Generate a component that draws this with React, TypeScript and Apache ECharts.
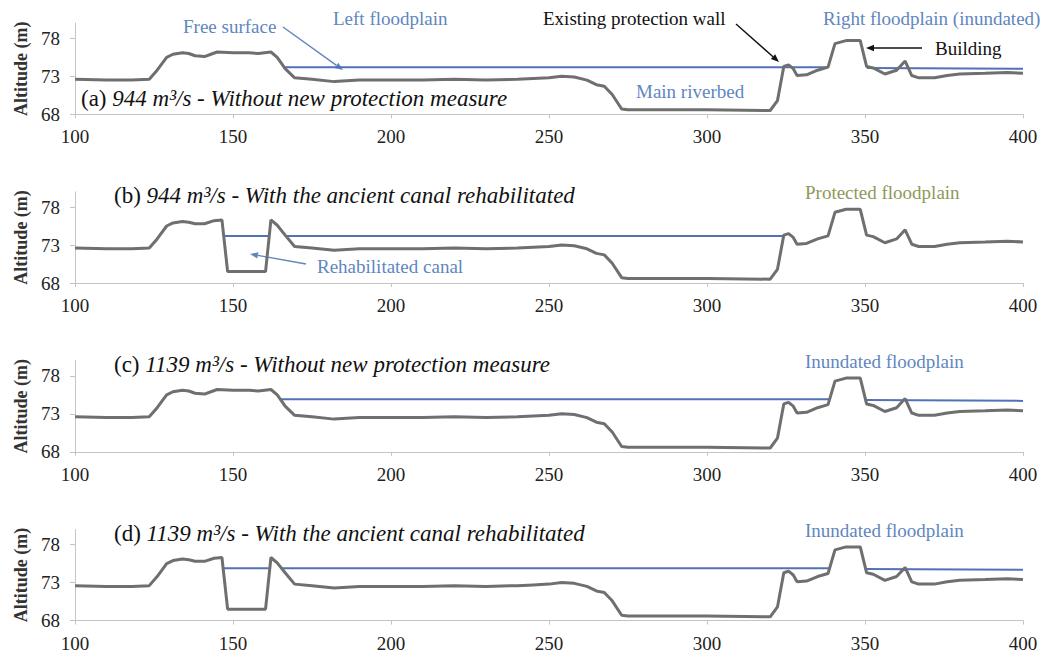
import React, { useEffect, useRef } from "react";
import * as echarts from "echarts";

// ---------- data ----------
const xTickValues = [100, 150, 200, 250, 300, 350, 400];
const yTickValues = [68, 73, 78];

// ground profile, existing state (panels a, c)
const groundExisting: [number, number][] = [
  [100, 72.6], [110, 72.5], [118, 72.5], [123.5, 72.6], [126, 73.8], [129, 75.5],
  [131, 75.9], [134, 76.1], [136, 76.0], [138, 75.7], [141, 75.6], [143, 75.9],
  [145, 76.2], [150, 76.1], [155, 76.1], [158, 76.0], [162, 76.2], [164, 75.5],
  [166.5, 74.0], [169.5, 72.8], [175, 72.6], [182, 72.3], [190, 72.5], [200, 72.5],
  [210, 72.5], [220, 72.6], [230, 72.5], [240, 72.6], [245, 72.7], [250, 72.8],
  [254, 73.0], [258, 72.9], [262, 72.5], [265, 71.9], [267.5, 71.7], [270, 70.6],
  [273, 68.7], [275, 68.6], [300, 68.6], [320, 68.5], [322.3, 69.8], [324.3, 74.3],
  [325.8, 74.5], [327.3, 74.0], [328.5, 73.1], [331.5, 73.2], [335, 73.8], [338.3, 74.2],
  [340.5, 77.3], [344, 77.7], [348.5, 77.7], [350.5, 74.3], [352.6, 74.1], [356.3, 73.3],
  [360, 73.8], [362.7, 75.0], [364.8, 73.1], [367, 72.8], [372, 72.8], [376, 73.1],
  [380, 73.3], [388, 73.4], [395, 73.5], [400, 73.4],
];

// ground profile with the ancient canal rehabilitated (panels b, d)
const groundWithCanal: [number, number][] = [
  [100, 72.6], [110, 72.5], [118, 72.5], [123.5, 72.6], [126, 73.8], [129, 75.5],
  [131, 75.9], [134, 76.1], [136, 76.0], [138, 75.8], [141, 75.8], [144, 76.2],
  [146.5, 76.3], [148.3, 69.5], [160.3, 69.5], [162, 76.3], [164, 75.6],
  [166.5, 74.3], [169.5, 72.8], [175, 72.6], [182, 72.3], [190, 72.5], [200, 72.5],
  [210, 72.5], [220, 72.6], [230, 72.5], [240, 72.6], [245, 72.7], [250, 72.8],
  [254, 73.0], [258, 72.9], [262, 72.5], [265, 71.9], [267.5, 71.7], [270, 70.6],
  [273, 68.7], [275, 68.6], [300, 68.6], [320, 68.5], [322.3, 69.8], [324.3, 74.3],
  [325.8, 74.5], [327.3, 74.0], [328.5, 73.1], [331.5, 73.2], [335, 73.8], [338.3, 74.2],
  [340.5, 77.3], [344, 77.7], [348.5, 77.7], [350.5, 74.3], [352.6, 74.1], [356.3, 73.3],
  [360, 73.8], [362.7, 75.0], [364.8, 73.1], [367, 72.8], [372, 72.8], [376, 73.1],
  [380, 73.3], [388, 73.4], [395, 73.5], [400, 73.4],
];

// free surface levels
const surfaceA: any[] = [[166.3, 74.2], [338.2, 74.2], [344, "-"], [350.6, 74.1], [400, 74.0]];
const surfaceB: any[] = [[147.0, 74.2], [161.3, 74.2], [163, "-"], [166.7, 74.2], [324.2, 74.2]];
const surfaceC: any[] = [[165.0, 74.9], [338.8, 74.9], [344, "-"], [350.1, 74.8], [400, 74.7]];
const surfaceD: any[] = [[147.0, 74.9], [161.3, 74.9], [163, "-"], [165.3, 74.9], [338.8, 74.9], [344, "-"], [350.1, 74.8], [400, 74.7]];

const panelLetters = ["(a) ", "(b) ", "(c) ", "(d) "];
const panelSubtitles = [
  "944 m³/s - Without new protection measure",
  "944 m³/s - With the ancient canal rehabilitated",
  "1139 m³/s - Without new protection measure",
  "1139 m³/s - With the ancient canal rehabilitated",
];
const panelGrounds = [groundExisting, groundWithCanal, groundExisting, groundWithCanal];
const panelSurfaces = [surfaceA, surfaceB, surfaceC, surfaceD];

// ---------- style ----------
const SERIF = "'Liberation Serif', 'Times New Roman', serif";
const GROUND = "#6f6f6f";
const WATER = "#5272b8";
const NOTE_BLUE = "#5f86bf";
const AXIS_GREY = "#c4c4c4";
const NOTE_SIZE = 19;

const GRID_LEFT = 75;
const GRID_RIGHT = 27;
const GRID_H = 91.2;
const GRID_TOPS = [23.1, 191.8, 360.6, 529.4];
const TITLE_POS = [
  [81, 98],
  [114, 195],
  [114, 364],
  [114, 533],
];

function arrow(x1: number, y1: number, x2: number, y2: number, color: string) {
  const ang = Math.atan2(y2 - y1, x2 - x1);
  const L = 8, W = 3.2;
  const bx = x2 - L * Math.cos(ang), by = y2 - L * Math.sin(ang);
  const px = -Math.sin(ang) * W, py = Math.cos(ang) * W;
  return [
    { type: "line", shape: { x1, y1, x2: bx, y2: by }, style: { stroke: color, lineWidth: 1.4 }, silent: true },
    {
      type: "polygon",
      shape: { points: [[x2, y2], [bx + px, by + py], [bx - px, by - py]] },
      style: { fill: color },
      silent: true,
    },
  ];
}

function note(text: string, x: number, y: number, color: string) {
  return {
    type: "text",
    x,
    y,
    style: { text, fill: color, font: `${NOTE_SIZE}px ${SERIF}`, verticalAlign: "middle" },
    silent: true,
  };
}

export default function App() {
  const ref = useRef<HTMLDivElement>(null);

  useEffect(() => {
    if (!ref.current) return;
    const chart = echarts.init(ref.current, undefined, { renderer: "svg" });

    const grids = GRID_TOPS.map((top) => ({ left: GRID_LEFT, right: GRID_RIGHT, top, height: GRID_H }));

    const xAxes = GRID_TOPS.map((_, i) => ({
      type: "value",
      gridIndex: i,
      min: xTickValues[0],
      max: xTickValues[xTickValues.length - 1],
      interval: xTickValues[1] - xTickValues[0],
      axisLine: { show: true, lineStyle: { color: AXIS_GREY, width: 1 } },
      axisTick: { show: true, length: 4, lineStyle: { color: AXIS_GREY } },
      splitLine: { show: false },
      axisLabel: { fontFamily: SERIF, fontSize: 19, color: "#222", margin: 13 },
    }));

    const yAxes = GRID_TOPS.map((_, i) => ({
      type: "value",
      gridIndex: i,
      min: 68,
      max: 80,
      name: "Altitude (m)",
      nameLocation: "middle",
      nameRotate: 90,
      nameGap: 44,
      nameTextStyle: { fontFamily: SERIF, fontSize: 18, fontWeight: "bold", color: "#333" },
      axisLine: { show: true, lineStyle: { color: AXIS_GREY, width: 1 } },
      axisTick: { show: true, length: 5, customValues: yTickValues, lineStyle: { color: AXIS_GREY } },
      splitLine: { show: false },
      axisLabel: { fontFamily: SERIF, fontSize: 19, color: "#222", margin: 15, customValues: yTickValues },
    }));

    const series: any[] = [];
    GRID_TOPS.forEach((_, i) => {
      series.push({
        type: "line",
        xAxisIndex: i,
        yAxisIndex: i,
        data: panelSurfaces[i],
        showSymbol: false,
        connectNulls: false,
        lineStyle: { color: WATER, width: 2 },
        z: 2,
      });
      series.push({
        type: "line",
        xAxisIndex: i,
        yAxisIndex: i,
        data: panelGrounds[i],
        showSymbol: false,
        lineStyle: { color: GROUND, width: 3 },
        z: 3,
      });
    });

    const graphics: any[] = [];
    TITLE_POS.forEach(([x, y], i) => {
      graphics.push({
        type: "text",
        x,
        y,
        silent: true,
        style: {
          text: `{n|${panelLetters[i]}}{it|${panelSubtitles[i]}}`,
          verticalAlign: "middle",
          rich: {
            n: { fontFamily: SERIF, fontSize: 23, fontStyle: "normal", fill: "#111", color: "#111" },
            it: { fontFamily: SERIF, fontSize: 23, fontStyle: "italic", fill: "#111", color: "#111" },
          },
        },
      });
    });

    // panel (a) annotations
    graphics.push(note("Free surface", 183, 26, NOTE_BLUE));
    graphics.push(...arrow(283, 27, 343, 70, NOTE_BLUE));
    graphics.push(note("Left floodplain", 333, 18, NOTE_BLUE));
    graphics.push(note("Existing protection wall", 543, 18, "#111"));
    graphics.push(...arrow(736, 24, 779, 62, "#111"));
    graphics.push(note("Right floodplain (inundated)", 823, 18, NOTE_BLUE));
    graphics.push(note("Building", 935, 48, "#111"));
    graphics.push(...arrow(922, 48, 866, 48, "#111"));
    graphics.push(note("Main riverbed", 636, 91, NOTE_BLUE));
    // panel (b)
    graphics.push(note("Rehabilitated canal", 317, 266, NOTE_BLUE));
    graphics.push(...arrow(306, 264, 250, 254, NOTE_BLUE));
    graphics.push(note("Protected floodplain", 805, 192, "#8b9a5a"));
    // panels (c), (d)
    graphics.push(note("Inundated floodplain", 805, 361, NOTE_BLUE));
    graphics.push(note("Inundated floodplain", 805, 530, NOTE_BLUE));

    chart.setOption({
      animation: false,
      backgroundColor: "#ffffff",
      grid: grids,
      xAxis: xAxes,
      yAxis: yAxes,
      series,
      graphic: graphics,
    });

    return () => chart.dispose();
  }, []);

  return (
    <div
      ref={ref}
      style={{ position: "fixed", left: 0, top: 0, width: 1050, height: 659, background: "#fff" }}
    />
  );
}
